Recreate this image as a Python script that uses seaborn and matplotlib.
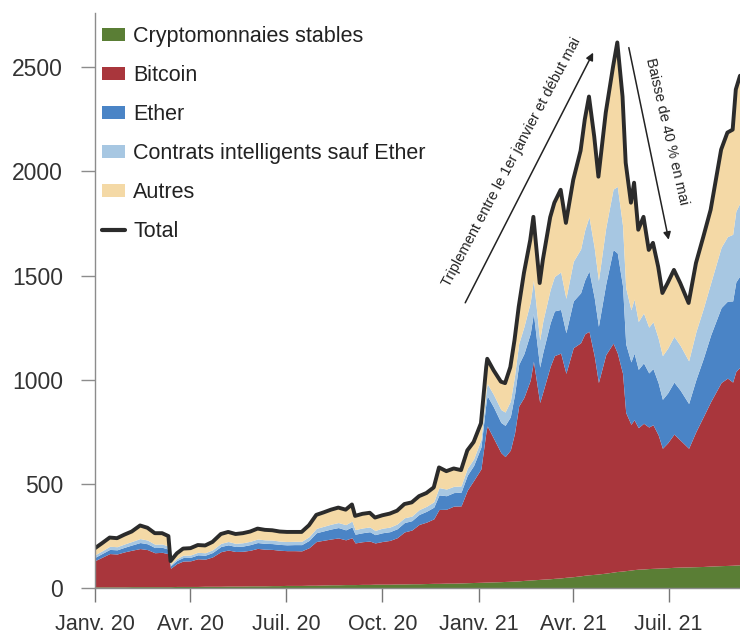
import matplotlib
matplotlib.use("Agg")
import matplotlib.pyplot as plt
import seaborn as sns
import pandas as pd
from matplotlib.patches import Patch
from matplotlib.lines import Line2D

# ---------------- data (billions USD) ----------------
dates = [
    "2020-01-01", "2020-01-08", "2020-01-15", "2020-01-22", "2020-01-29", "2020-02-05", "2020-02-13", "2020-02-20", "2020-02-27", "2020-03-05",
    "2020-03-11", "2020-03-13", "2020-03-19", "2020-03-25", "2020-04-01", "2020-04-08", "2020-04-15", "2020-04-22", "2020-04-30", "2020-05-07",
    "2020-05-14", "2020-05-21", "2020-05-28", "2020-06-04", "2020-06-11", "2020-06-18", "2020-06-25", "2020-07-02", "2020-07-09", "2020-07-16",
    "2020-07-23", "2020-07-30", "2020-08-06", "2020-08-13", "2020-08-20", "2020-08-27", "2020-09-02", "2020-09-05", "2020-09-12", "2020-09-19",
    "2020-09-24", "2020-10-01", "2020-10-08", "2020-10-15", "2020-10-22", "2020-10-29", "2020-11-05", "2020-11-12", "2020-11-19", "2020-11-24",
    "2020-12-01", "2020-12-08", "2020-12-15", "2020-12-21", "2020-12-27", "2021-01-03", "2021-01-08", "2021-01-09", "2021-01-15", "2021-01-22",
    "2021-01-26", "2021-01-31", "2021-02-04", "2021-02-08", "2021-02-13", "2021-02-19", "2021-02-22", "2021-02-28", "2021-03-03", "2021-03-10",
    "2021-03-14", "2021-03-20", "2021-03-25", "2021-04-01", "2021-04-08", "2021-04-12", "2021-04-16", "2021-04-21", "2021-04-25", "2021-05-02",
    "2021-05-09", "2021-05-13", "2021-05-18", "2021-05-21", "2021-05-26", "2021-05-29", "2021-06-02", "2021-06-07", "2021-06-12", "2021-06-16",
    "2021-06-21", "2021-06-25", "2021-06-30", "2021-07-06", "2021-07-12", "2021-07-20", "2021-07-27", "2021-08-03", "2021-08-10", "2021-08-20",
    "2021-08-26", "2021-08-31", "2021-09-03", "2021-09-07",
]

stables = [
    4, 4, 4, 4, 4, 5, 5, 5, 5, 5,
    5, 5, 6, 6, 6, 6, 7, 7, 7, 8,
    8, 8, 9, 9, 9, 10, 10, 11, 11, 11,
    12, 12, 13, 14, 14, 15, 15, 15, 16, 16,
    17, 17, 17, 18, 18, 19, 19, 20, 21, 21,
    22, 22, 23, 24, 25, 26, 27, 27, 28, 29,
    30, 31, 32, 33, 35, 37, 38, 40, 41, 43,
    45, 47, 50, 53, 57, 60, 62, 64, 66, 70,
    75, 78, 80, 82, 85, 87, 89, 90, 92, 93,
    94, 95, 96, 98, 99, 100, 101, 102, 104, 106,
    107, 108, 109, 110,
]

bitcoin = [
    126, 143, 160, 158, 168, 175, 183, 178, 163, 165,
    158, 88, 110, 122, 123, 133, 130, 141, 166, 173,
    166, 167, 171, 180, 176, 174, 170, 167, 167, 166,
    180, 210, 215, 220, 225, 215, 225, 200, 205, 208,
    198, 205, 210, 222, 250, 258, 285, 295, 310, 355,
    355, 370, 370, 445, 490, 545, 730, 750, 690, 620,
    600, 630, 710, 840, 880, 960, 1050, 850, 900, 1020,
    1070, 1080, 980, 1100, 1120, 1160, 1170, 1050, 920, 1050,
    1100, 1050, 950, 760, 700, 720, 680, 700, 680, 690,
    640, 575, 600, 640, 610, 570, 650, 720, 790, 880,
    900, 880, 930, 950,
]

ether = [
    16, 18, 20, 20, 22, 25, 29, 28, 25, 24,
    22, 12, 15, 17, 17, 19, 19, 21, 25, 25,
    24, 25, 27, 28, 28, 28, 28, 28, 29, 30,
    35, 42, 45, 48, 50, 48, 52, 42, 43, 45,
    40, 42, 42, 43, 45, 45, 48, 52, 56, 70,
    65, 65, 66, 72, 72, 105, 140, 145, 150, 145,
    150, 160, 185, 200, 210, 225, 230, 170, 190, 210,
    215, 210, 195, 225, 240, 260, 290, 280, 270, 340,
    450, 480, 420, 330, 300, 320, 280, 290, 260, 270,
    250, 235, 240, 250, 240, 215, 250, 280, 320, 360,
    370, 390, 430, 440,
]

contrats = [
    12, 13, 15, 15, 16, 17, 19, 18, 16, 16,
    15, 7, 9, 11, 11, 12, 12, 13, 15, 16,
    15, 16, 16, 17, 17, 17, 16, 16, 16, 16,
    18, 21, 22, 23, 24, 25, 28, 22, 23, 23,
    20, 22, 22, 23, 23, 22, 23, 24, 26, 35,
    32, 30, 30, 33, 32, 36, 55, 58, 60, 62,
    64, 75, 90, 100, 130, 150, 160, 130, 150, 160,
    165, 180, 165, 190, 210, 240, 260, 240, 220, 270,
    290, 320, 290, 270, 250, 260, 230, 240, 220, 225,
    215, 210, 215, 220, 215, 205, 230, 240, 250, 290,
    310, 320, 340, 350,
]

autres = [
    32, 37, 42, 41, 45, 48, 63, 59, 53, 52,
    48, 16, 25, 32, 33, 35, 35, 38, 45, 46,
    45, 46, 47, 50, 48, 47, 46, 46, 45, 45,
    55, 65, 67, 70, 72, 72, 80, 66, 68, 68,
    62, 62, 65, 64, 66, 66, 65, 64, 69, 97,
    86, 86, 76, 86, 81, 78, 108, 120, 117, 134,
    139, 164, 173, 177, 258, 299, 304, 274, 294, 347,
    355, 395, 363, 392, 473, 530, 578, 534, 499, 553,
    590, 692, 620, 600, 515, 559, 441, 462, 371, 379,
    343, 301, 313, 319, 300, 278, 329, 344, 352, 469,
    500, 503, 585, 610,
]

series_labels = ["Cryptomonnaies stables", "Bitcoin", "Ether",
                 "Contrats intelligents sauf Ether", "Autres", "Total"]
series_colors = ["#5a7e35", "#a9363c", "#4a84c6", "#a7c7e2", "#f4d9a6", "#2b2b2b"]

tick_dates = ["2020-01-01", "2020-04-01", "2020-07-01", "2020-10-01",
              "2021-01-01", "2021-04-01", "2021-07-01"]
tick_labels = ["Janv. 20", "Avr. 20", "Juil. 20", "Oct. 20",
               "Janv. 21", "Avr. 21", "Juil. 21"]
y_ticks = [0, 500, 1000, 1500, 2000, 2500]

note_up = "Triplement entre le 1er janvier et début mai"
note_down = "Baisse de 40 % en mai"

# ---------------- build table ----------------
df = pd.DataFrame({
    "date": pd.to_datetime(dates),
    "stables": stables,
    "bitcoin": bitcoin,
    "ether": ether,
    "contrats": contrats,
    "autres": autres,
})
df["total"] = df[["stables", "bitcoin", "ether", "contrats", "autres"]].sum(axis=1)

# ---------------- style ----------------
sns.set_theme(style="white")
plt.rcParams["font.family"] = ["Liberation Sans", "DejaVu Sans"]

fig = plt.figure(figsize=(7.4, 6.34), dpi=100)
ax = fig.add_axes([95 / 740, 46.3 / 634, 645 / 740, 574.4 / 634])

ax.stackplot(df["date"], df["stables"], df["bitcoin"], df["ether"],
             df["contrats"], df["autres"], colors=series_colors[:5],
             linewidth=0, antialiased=True)
sns.lineplot(data=df, x="date", y="total", ax=ax, color=series_colors[5],
             linewidth=2.8, legend=False)

ax.set_xlim(df["date"].iloc[0], df["date"].iloc[-1])
ax.set_ylim(0, 2760)
ax.set_xlabel("")
ax.set_ylabel("")

ax.set_yticks(y_ticks)
ax.set_yticklabels([str(v) for v in y_ticks])
ax.set_xticks(pd.to_datetime(tick_dates))
ax.set_xticklabels(tick_labels)

for side in ["top", "right"]:
    ax.spines[side].set_visible(False)
for side in ["left", "bottom"]:
    ax.spines[side].set_color("#8c8c8c")
    ax.spines[side].set_linewidth(1.0)

ax.tick_params(axis="y", length=10, width=1, color="#8c8c8c", pad=13,
               labelsize=16.5, labelcolor="#333333", left=True)
ax.tick_params(axis="x", length=10, width=1, color="#777777", pad=9,
               labelsize=15.5, labelcolor="#333333", bottom=True)

# ---------------- annotations ----------------
ax.annotate("", xy=(pd.Timestamp("2021-04-20"), 2571),
            xytext=(pd.Timestamp("2020-12-19"), 1369),
            arrowprops=dict(arrowstyle="-|>", color="#222222", lw=1.1,
                            mutation_scale=11, shrinkA=0, shrinkB=0))
ax.text(pd.Timestamp("2021-02-01"), 2047, note_up, rotation=62,
        rotation_mode="anchor", ha="center", va="center",
        fontsize=10.5, color="#222222")

ax.annotate("", xy=(pd.Timestamp("2021-07-01"), 1672),
            xytext=(pd.Timestamp("2021-05-24"), 2595),
            arrowprops=dict(arrowstyle="-|>", color="#222222", lw=1.1,
                            mutation_scale=11, shrinkA=0, shrinkB=0))
ax.text(pd.Timestamp("2021-06-29"), 2191, note_down, rotation=-77,
        rotation_mode="anchor", ha="center", va="center",
        fontsize=10.5, color="#222222")

# ---------------- legend ----------------
handles = [Patch(facecolor=c, edgecolor="none") for c in series_colors[:5]]
handles.append(Line2D([0], [0], color=series_colors[5], lw=3))
ax.legend(handles, series_labels, loc="upper left",
          bbox_to_anchor=(0.011, 0.978), frameon=False, fontsize=15.5,
          handlelength=1.05, handleheight=0.55, handletextpad=0.4,
          labelspacing=0.84, borderaxespad=0, borderpad=0,
          labelcolor="#222222")

fig.savefig("out.png", dpi=100)
